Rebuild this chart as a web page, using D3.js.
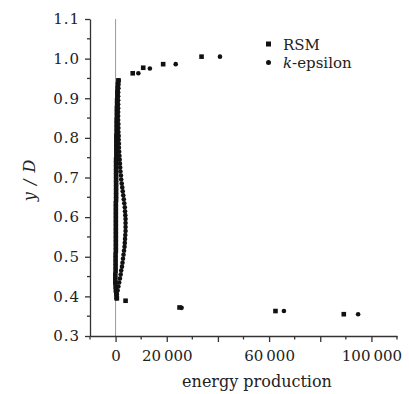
<html>

<head>
    <meta charset="utf-8">
    <style>
        body {
            margin: 0;
            background: #fff;
        }

        text {
            font-family: "DejaVu Serif", "Liberation Serif", serif;
            fill: #222;
        }

        .axis path,
        .axis line {
            stroke: #333;
            stroke-width: 1.3;
        }

        .zero {
            stroke: #999;
            stroke-width: 1;
        }
    </style>
</head>

<body>
    <script src="https://cdn.jsdelivr.net/npm/d3@7"></script>
    <script>
        var width = 409,
            height = 394;

        // [energy production, y/D]
        var rsm = [
            [6700, 0.963], [10800, 0.977], [18600, 0.986], [33600, 1.005],
            [1100, 0.945], [900, 0.935], [800, 0.925], [700, 0.915], [700, 0.905],
            [600, 0.895], [600, 0.885], [500, 0.875], [500, 0.865], [500, 0.855],
            [400, 0.845], [400, 0.835], [400, 0.825], [400, 0.815], [300, 0.805],
            [300, 0.795], [300, 0.785], [300, 0.775], [300, 0.765], [300, 0.755],
            [200, 0.745], [200, 0.735], [200, 0.725], [200, 0.715], [200, 0.705],
            [200, 0.695], [200, 0.685], [200, 0.675], [200, 0.665], [200, 0.655],
            [200, 0.645], [100, 0.635], [100, 0.625], [100, 0.615], [100, 0.605],
            [100, 0.595], [100, 0.585], [100, 0.575], [100, 0.565], [100, 0.555],
            [100, 0.545], [100, 0.535], [100, 0.525], [100, 0.515], [0, 0.505],
            [0, 0.495], [0, 0.485], [0, 0.475], [0, 0.465], [-100, 0.455],
            [-100, 0.445], [-100, 0.435], [0, 0.425], [100, 0.415], [300, 0.405],
            [500, 0.395],
            [3900, 0.389], [25000, 0.372], [62500, 0.363], [89200, 0.355]
        ];

        var kEpsilon = [
            [8900, 0.963], [13400, 0.975], [23500, 0.986], [40800, 1.005],
            [1200, 0.945], [1100, 0.935], [1100, 0.925], [1000, 0.915], [1000, 0.905],
            [1000, 0.895], [1000, 0.885], [1000, 0.875], [1000, 0.865], [1000, 0.855],
            [1000, 0.845], [1100, 0.835], [1100, 0.825], [1100, 0.815], [1200, 0.805],
            [1200, 0.795], [1300, 0.785], [1300, 0.775], [1400, 0.765], [1500, 0.755],
            [1600, 0.745], [1700, 0.735], [1800, 0.725], [1900, 0.715], [2100, 0.705],
            [2200, 0.695], [2400, 0.685], [2600, 0.675], [2800, 0.665], [3000, 0.655],
            [3200, 0.645], [3400, 0.635], [3600, 0.625], [3700, 0.615], [3800, 0.605],
            [3900, 0.595], [3900, 0.585], [3900, 0.575], [3900, 0.565], [3800, 0.555],
            [3700, 0.545], [3600, 0.535], [3500, 0.525], [3300, 0.515], [3100, 0.505],
            [2900, 0.495], [2700, 0.485], [2500, 0.475], [2200, 0.465], [2000, 0.455],
            [1700, 0.445], [1400, 0.435], [1100, 0.425], [800, 0.415], [500, 0.405],
            [300, 0.395],
            [25800, 0.371], [65800, 0.363], [94800, 0.355]
        ];

        var xMajor = [0, 20000, 40000, 60000, 80000, 100000],
            xMinor = [-10000, 10000, 30000, 50000, 70000, 90000, 110000],
            xLabels = [0, 20000, 60000, 100000],
            yMajor = [0.3, 0.4, 0.5, 0.6, 0.7, 0.8, 0.9, 1.0, 1.1],
            yMinor = [0.35, 0.45, 0.55, 0.65, 0.75, 0.85, 0.95, 1.05];

        var x = d3.scaleLinear()
            .domain([-10000, 110000])
            .range([90, 397]);

        var y = d3.scaleLinear()
            .domain([0.3, 1.1])
            .range([336, 19]);

        var locale = d3.formatLocale({ decimal: ".", thousands: "\u2009", grouping: [3] });
        var fmtX = locale.format(","),
            fmtY = d3.format(".1f");

        var svg = d3.select("body").append("svg")
            .attr("width", width)
            .attr("height", height);

        // vertical line at zero
        svg.append("line")
            .attr("class", "zero")
            .attr("x1", x(0)).attr("x2", x(0))
            .attr("y1", y(1.1)).attr("y2", y(0.3));

        // x axis
        var gx = svg.append("g")
            .attr("class", "axis")
            .attr("transform", "translate(0," + y(0.3) + ")");
        gx.call(d3.axisBottom(x).tickValues(xMajor).tickSize(6).tickSizeOuter(0).tickFormat(function (d) {
            return xLabels.indexOf(d) >= 0 ? fmtX(d) : "";
        }));
        gx.selectAll(".minor").data(xMinor).enter().append("line")
            .attr("class", "minor")
            .attr("x1", x).attr("x2", x)
            .attr("y1", 0).attr("y2", 3.5);
        gx.selectAll(".tick text")
            .attr("dy", "1.05em")
            .style("font-size", "15px");

        // y axis
        var gy = svg.append("g")
            .attr("class", "axis")
            .attr("transform", "translate(" + x(-10000) + ",0)");
        gy.call(d3.axisLeft(y).tickValues(yMajor).tickSize(5).tickSizeOuter(0).tickFormat(fmtY));
        gy.selectAll(".minor").data(yMinor).enter().append("line")
            .attr("class", "minor")
            .attr("x1", 0).attr("x2", -3)
            .attr("y1", y).attr("y2", y);
        gy.selectAll(".tick text")
            .attr("x", -10)
            .style("font-size", "15px")
            .style("letter-spacing", "1px");
        gy.selectAll(".domain, .tick line").attr("stroke", "#333");
        gx.selectAll(".domain, .tick line").attr("stroke", "#333");
        svg.selectAll(".axis text").attr("fill", "#222");

        // points
        svg.append("g").selectAll("rect").data(rsm).enter().append("rect")
            .attr("x", function (d) { return x(d[0]) - 2.3; })
            .attr("y", function (d) { return y(d[1]) - 2.3; })
            .attr("width", 4.6)
            .attr("height", 4.6)
            .attr("fill", "#111");

        svg.append("g").selectAll("circle").data(kEpsilon).enter().append("circle")
            .attr("cx", function (d) { return x(d[0]); })
            .attr("cy", function (d) { return y(d[1]); })
            .attr("r", 2.3)
            .attr("fill", "#111");

        // legend
        var legend = svg.append("g");
        legend.append("rect")
            .attr("x", 266).attr("y", 41.5)
            .attr("width", 5).attr("height", 5)
            .attr("fill", "#111");
        legend.append("circle")
            .attr("cx", 268.5).attr("cy", 62.5)
            .attr("r", 2.5)
            .attr("fill", "#111");
        legend.append("text")
            .attr("x", 283).attr("y", 50)
            .style("font-size", "15px")
            .text("RSM");
        var kt = legend.append("text")
            .attr("x", 283).attr("y", 68)
            .style("font-size", "15px");
        kt.append("tspan").style("font-style", "italic").text("k");
        kt.append("tspan").text("-epsilon");

        // axis titles
        svg.append("text")
            .attr("x", 257)
            .attr("y", 387)
            .attr("text-anchor", "middle")
            .style("font-size", "16px")
            .text("energy production");

        svg.append("text")
            .attr("transform", "translate(35,180) rotate(-90)")
            .attr("text-anchor", "middle")
            .style("font-size", "16px")
            .style("font-style", "italic")
            .style("letter-spacing", "1px")
            .text("y / D");
    </script>
</body>

</html>
